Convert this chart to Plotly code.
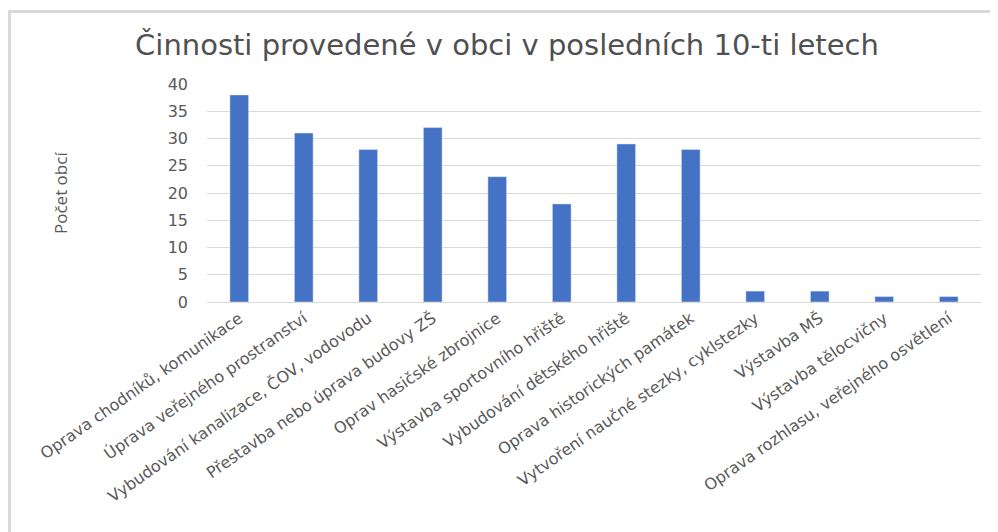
import plotly.graph_objects as go

categories = [
    "Oprava chodníků, komunikace",
    "Úprava veřejného prostranství",
    "Vybudování kanalizace, ČOV, vodovodu",
    "Přestavba nebo úprava budovy ZŠ",
    "Oprav hasičské zbrojnice",
    "Výstavba sportovního hřiště",
    "Vybudování dětského hřiště",
    "Oprava historických památek",
    "Vytvoření naučné stezky, cyklstezky",
    "Výstavba MŠ",
    "Výstavba tělocvičny",
    "Oprava rozhlasu, veřejného osvětlení",
]
values = [38, 31, 28, 32, 23, 18, 29, 28, 2, 2, 1, 1]
y_ticks = [0, 5, 10, 15, 20, 25, 30, 35, 40]

# page body has an 8px margin, so the figure is drawn 8px in
W, H = 990, 524
L, R, T, B = 199, 17, 76, 230
pw, ph = W - L - R, H - T - B

fig = go.Figure(go.Bar(x=categories, y=values, marker_color="#4472C4", width=0.29))

fig.update_layout(
    width=W, height=H,
    margin=dict(l=L, r=R, t=T, b=B, autoexpand=False),
    plot_bgcolor="white", paper_bgcolor="white",
    font=dict(family="DejaVu Sans", color="#595959"),
    title=dict(text="Činnosti provedené v obci v posledních 10-ti letech",
               x=499 / W, xref="container", xanchor="center",
               y=1 - 37 / H, yanchor="middle",
               font=dict(size=29, color="#505050", family="DejaVu Sans")),
    showlegend=False,
)
fig.update_xaxes(tickangle=-35, tickfont=dict(size=16, color="#595959", family="DejaVu Sans"),
                 showgrid=False, showline=True, linecolor="#D9D9D9", ticks="",
                 automargin=False)
fig.update_yaxes(range=[0, 40], tickvals=y_ticks, gridcolor="#D9D9D9",
                 tickfont=dict(size=16, color="#595959", family="DejaVu Sans"),
                 zeroline=False, ticklabelstandoff=18, automargin=False)

fig.add_annotation(text="Počet obcí", xref="paper", yref="paper",
                   x=(52 - L) / pw, y=(H - B - (193 - 8)) / ph,
                   xanchor="center", yanchor="middle",
                   textangle=-90, showarrow=False,
                   font=dict(size=17, color="#595959", family="Open Sans"))

# chart frame
x0 = (1.5 - L) / pw
x1 = (W + 20 - L) / pw
y1 = (H - B - 3.5) / ph
y0 = (H - B - 560) / ph
fig.add_shape(type="rect", xref="paper", yref="paper", x0=x0, x1=x1, y0=y0, y1=y1,
              line=dict(color="#D9D9D9", width=3), fillcolor="rgba(0,0,0,0)", layer="below")

fig.write_html("out.html")
